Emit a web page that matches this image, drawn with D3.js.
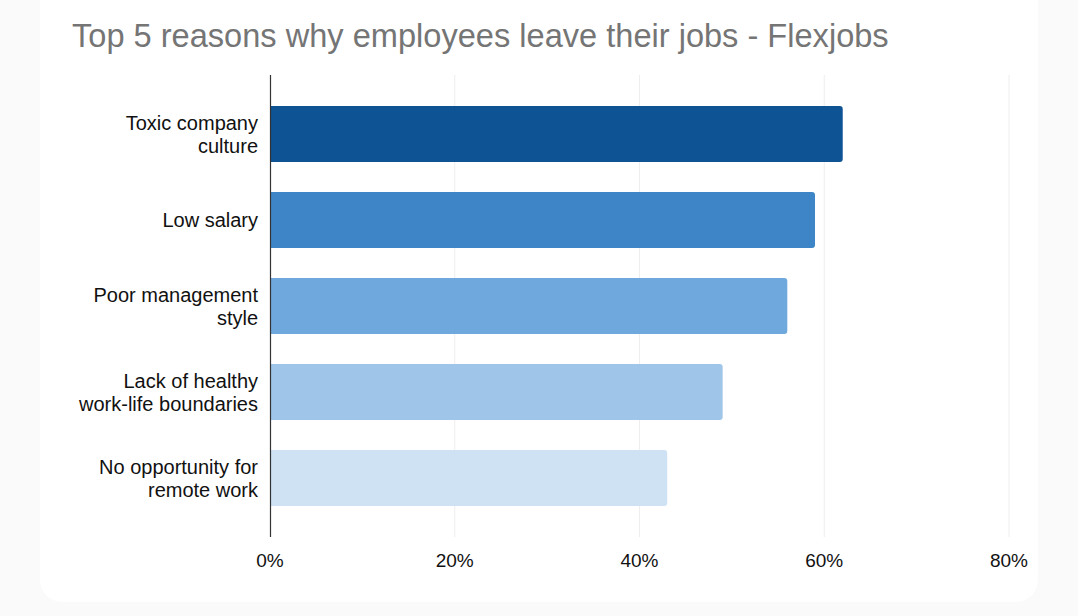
<!DOCTYPE html>
<html>
<head>
<meta charset="utf-8">
<script src="https://cdn.jsdelivr.net/npm/d3@7"></script>
<style>
  body { margin: 0; background: #fafafa; }
  svg { display: block; font-family: "Liberation Sans", Arial, sans-serif; }
</style>
</head>
<body>
<svg id="chart" width="1078" height="616"></svg>
<script>
var categories = [
  ["Toxic company", "culture"],
  ["Low salary"],
  ["Poor management", "style"],
  ["Lack of healthy", "work-life boundaries"],
  ["No opportunity for", "remote work"]
];
var values = [0.62, 0.59, 0.56, 0.49, 0.43];
var colors = ["#0e5394", "#3d85c6", "#6fa8dc", "#9fc5e8", "#cfe2f3"];
var ticks = [0, 0.2, 0.4, 0.6, 0.8];

var svg = d3.select("#chart");

// white card
svg.append("rect")
  .attr("x", 40).attr("y", -30)
  .attr("width", 998).attr("height", 632)
  .attr("rx", 22)
  .attr("fill", "#ffffff");

svg.append("text")
  .attr("x", 72).attr("y", 47)
  .attr("font-size", 32.6)
  .attr("fill", "#757575")
  .text("Top 5 reasons why employees leave their jobs - Flexjobs");

var x = d3.scaleLinear().domain([0, 0.8]).range([270, 1009]);
var y = d3.scaleBand()
  .domain(d3.range(categories.length))
  .range([91, 521])
  .paddingInner(0.35)
  .paddingOuter(0.175);

// gridlines
svg.append("g").selectAll("line")
  .data(ticks.slice(1))
  .join("line")
  .attr("x1", function(d) { return x(d); })
  .attr("x2", function(d) { return x(d); })
  .attr("y1", 75).attr("y2", 537)
  .attr("stroke", "#eeeeee")
  .attr("stroke-width", 1);

// bars
svg.append("g").selectAll("path")
  .data(values)
  .join("path")
  .attr("fill", function(d, i) { return colors[i]; })
  .attr("d", function(d, i) {
    var x0 = x(0), x1 = x(d), y0 = y(i), h = y.bandwidth(), r = 3;
    return "M" + x0 + "," + y0 + "H" + (x1 - r) +
      "Q" + x1 + "," + y0 + " " + x1 + "," + (y0 + r) +
      "V" + (y0 + h - r) +
      "Q" + x1 + "," + (y0 + h) + " " + (x1 - r) + "," + (y0 + h) +
      "H" + x0 + "Z";
  });

// vertical axis line
svg.append("line")
  .attr("x1", x(0) + 0.5).attr("x2", x(0) + 0.5)
  .attr("y1", 75).attr("y2", 537)
  .attr("stroke", "#333333")
  .attr("stroke-width", 1.2);

// category labels
var labels = svg.append("g").selectAll("text")
  .data(categories)
  .join("text")
  .attr("text-anchor", "end")
  .attr("font-size", 20)
  .attr("fill", "#111111")
  .attr("transform", function(d, i) {
    return "translate(258," + (y(i) + y.bandwidth() / 2) + ")";
  });

labels.selectAll("tspan")
  .data(function(d) { return d; })
  .join("tspan")
  .attr("x", 0)
  .attr("y", function(d, j, nodes) {
    var n = nodes.length;
    return (j - (n - 1) / 2) * 23 + 7;
  })
  .text(function(d) { return d; });

// x tick labels
svg.append("g").selectAll("text")
  .data(ticks)
  .join("text")
  .attr("x", function(d) { return x(d); })
  .attr("y", 567)
  .attr("text-anchor", "middle")
  .attr("font-size", 19)
  .attr("fill", "#111111")
  .text(d3.format(".0%"));
</script>
</body>
</html>
